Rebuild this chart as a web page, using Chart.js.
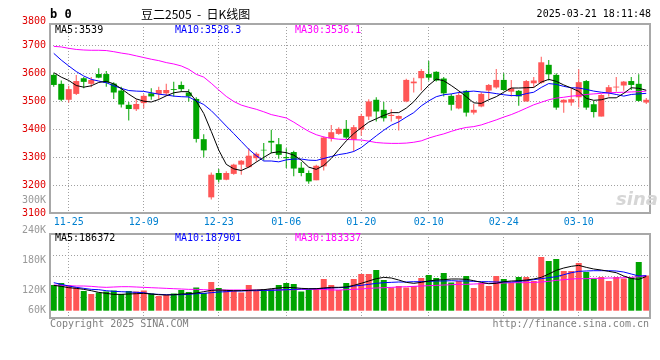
<!DOCTYPE html>
<html><head><meta charset="utf-8">
<script src="https://cdn.jsdelivr.net/npm/chart.js@4"></script>
<style>
body{margin:0;background:#fff;}
#wrap{position:relative;width:660px;height:360px;overflow:hidden;background:#fff;}
canvas{position:absolute;left:0;}
.t{position:absolute;font-family:'DejaVu Sans Mono',monospace;font-size:10px;line-height:10px;white-space:pre;color:#000;}
</style></head><body><div id="wrap">
<canvas id="pc" width="660" height="232" style="top:0;width:660px;height:232px"></canvas>
<canvas id="vc" width="660" height="170" style="top:190px;width:660px;height:170px"></canvas>
<div class="t" style="left:50px;top:8px;font-size:12px;line-height:12px;font-weight:bold">b 0</div>
<div class="t" style="left:141px;top:7px;font-family:'Noto Sans CJK SC',sans-serif;font-size:12px;line-height:14px">豆二2505  -  日K线图</div>
<div class="t" style="right:9px;top:9px">2025-03-21 18:11:48</div>
<div class="t" style="left:55px;top:25px;color:#000">MA5:3539</div>
<div class="t" style="left:175px;top:25px;color:#0000ff">MA10:3528.3</div>
<div class="t" style="left:295px;top:25px;color:#ff00ff">MA30:3536.1</div>
<div class="t" style="left:55px;top:233px;color:#000">MA5:186372</div>
<div class="t" style="left:175px;top:233px;color:#0000ff">MA10:187901</div>
<div class="t" style="left:295px;top:233px;color:#ff00ff">MA30:183337</div>
<div class="t" style="left:50px;top:319px;color:#808080">Copyright 2025 SINA.COM</div>
<div class="t" style="right:11px;top:319px;color:#808080">http://finance.sina.com.cn</div>
<div style="position:absolute;left:616px;top:188px;font-family:'DejaVu Sans',sans-serif;font-style:italic;font-weight:bold;font-size:18px;color:#d6d6d6">sina</div>
</div>
<script>
const dates = ['11-21','11-22','11-25','11-26','11-27','11-28','11-29',
'12-02','12-03','12-04','12-05','12-06','12-09','12-10','12-11','12-12','12-13','12-16','12-17','12-18','12-19','12-20','12-23','12-24','12-25','12-26','12-27','12-30','12-31',
'01-02','01-03','01-06','01-07','01-08','01-09','01-10','01-13','01-14','01-15','01-16','01-17','01-20','01-21','01-22','01-23','01-24','01-27',
'02-05','02-06','02-07','02-10','02-11','02-12','02-13','02-14','02-17','02-18','02-19','02-20','02-21','02-24','02-25','02-26','02-27','02-28',
'03-03','03-04','03-05','03-06','03-07','03-10','03-11','03-12','03-13','03-14','03-17','03-18','03-19','03-20','03-21'];
const dateTicks = ['11-25','12-09','12-23','01-06','01-20','02-10','02-24','03-10'];
const priceTicks = [3100,3200,3300,3400,3500,3600,3700];
const priceTopLabel = 3800;
const volTicks = [60,120,180,240,300];
const volBase = 78.6;

const openP  = [3594,3562,3505,3526,3582,3562,3597,3597,3563,3538,3487,3471,3493,3528,3526,3528,3543,3558,3531,3508,3364,3156,3243,3219,3240,3273,3264,3296,3326,3358,3346,3300,3318,3262,3243,3217,3267,3367,3383,3401,3362,3398,3445,3505,3469,3447,3437,3499,3564,3582,3597,3605,3581,3519,3474,3537,3459,3481,3538,3549,3576,3534,3537,3499,3564,3566,3630,3594,3495,3495,3514,3572,3489,3445,3531,3549,3556,3572,3562,3495];
const highP  = [3600,3574,3555,3594,3586,3586,3618,3608,3568,3552,3497,3507,3525,3546,3552,3562,3569,3570,3543,3514,3382,3245,3257,3249,3276,3290,3332,3317,3350,3398,3368,3332,3323,3282,3252,3273,3374,3415,3407,3433,3415,3455,3507,3514,3497,3471,3449,3580,3584,3615,3644,3607,3586,3526,3534,3540,3490,3532,3561,3615,3600,3576,3540,3576,3586,3659,3647,3600,3507,3546,3614,3576,3501,3525,3558,3586,3572,3586,3596,3511];
const lowP   = [3552,3500,3495,3522,3546,3550,3582,3552,3508,3477,3431,3465,3475,3505,3508,3519,3517,3534,3499,3352,3299,3148,3209,3217,3237,3237,3261,3284,3288,3314,3294,3261,3231,3231,3205,3217,3252,3356,3380,3365,3320,3376,3433,3427,3427,3427,3395,3496,3531,3538,3574,3570,3517,3467,3471,3445,3452,3478,3508,3544,3538,3517,3484,3499,3550,3562,3574,3469,3459,3484,3477,3469,3442,3445,3517,3534,3537,3540,3499,3490];
const closeP = [3558,3505,3543,3572,3569,3576,3584,3566,3531,3488,3472,3490,3519,3517,3540,3540,3540,3543,3517,3365,3324,3237,3219,3243,3273,3287,3305,3312,3324,3352,3308,3296,3259,3243,3213,3269,3370,3389,3401,3370,3407,3447,3499,3463,3439,3451,3447,3576,3570,3608,3584,3574,3528,3487,3522,3459,3469,3526,3558,3576,3540,3546,3517,3572,3574,3639,3596,3477,3505,3507,3568,3477,3461,3522,3550,3552,3570,3558,3501,3505];

const ma5  = [3602,3586,3574,3556,3550,3555,3567,3571,3562,3545,3525,3508,3500,3497,3506,3519,3530,3534,3534,3500,3456,3392,3325,3274,3258,3252,3264,3282,3299,3315,3319,3316,3307,3289,3264,3256,3270,3295,3327,3358,3384,3405,3425,3437,3449,3459,3459,3475,3498,3529,3557,3579,3573,3556,3537,3516,3494,3492,3505,3516,3532,3547,3547,3548,3549,3568,3578,3571,3558,3547,3535,3510,3503,3505,3512,3512,3528,3548,3546,3539];
const ma10 = [3671,3647,3626,3606,3590,3578,3572,3566,3555,3546,3538,3536,3535,3530,3525,3522,3518,3516,3515,3501,3488,3466,3439,3411,3384,3356,3328,3305,3286,3286,3283,3290,3293,3293,3289,3288,3295,3302,3309,3313,3320,3334,3355,3376,3396,3414,3426,3443,3459,3483,3501,3516,3523,3526,3531,3534,3536,3533,3531,3527,3523,3520,3520,3527,3532,3549,3563,3560,3553,3548,3547,3542,3536,3532,3529,3524,3518,3524,3526,3528];
const ma30 = [3696,3694,3689,3685,3683,3682,3682,3681,3677,3672,3668,3662,3656,3650,3645,3638,3633,3626,3614,3596,3586,3564,3540,3517,3499,3486,3478,3471,3462,3452,3446,3440,3425,3408,3392,3380,3372,3367,3364,3363,3362,3361,3357,3352,3350,3349,3349,3350,3353,3358,3368,3376,3383,3392,3400,3406,3409,3415,3424,3433,3443,3452,3463,3475,3487,3496,3505,3511,3514,3518,3520,3524,3526,3528,3530,3531,3532,3533,3534,3536];

const volume = [130,134,129,125,118,112,115,117,119,112,118,117,119,113,108,110,113,120,116,125,114,136,124,120,118,115,130,118,122,122,130,134,132,117,121,123,142,130,120,134,142,152,152,160,140,125,128,125,128,144,150,144,154,135,138,148,124,134,128,148,142,134,146,146,138,186,178,182,158,158,174,156,143,146,138,146,143,145,176,149];
const volMa5  = [129.3,127.3,124.6,123.3,121.3,118.6,115.3,113.3,111.3,111.3,112,112.6,113.3,112,110.6,110,110.6,112,112.6,114,116.6,119.3,120,119.3,118.6,118.6,119.3,120,120.6,122.6,124,125.3,124.6,123.3,122.6,122.6,124,125.3,125.3,126,129.3,133.3,138,142.6,145.3,144,140,135.3,133.3,135.3,138,140,140.6,142,142,141.3,138.6,135.3,132.6,133.3,136.6,138,138.6,140,142,145.3,152,159.3,164,167.3,169.3,165.3,162,160,157.3,154.6,148,143,141.3,147];
const volMa10 = [134.6,131.3,128,125.3,123.3,121.3,120.6,118.6,117.3,116.6,116,115.3,114.6,112,111.3,110.6,110.6,110.6,111.3,112.6,113.3,114.6,116,116.6,118,118,118.6,118.6,119.3,119.3,120,120.6,121.3,122,122,122.6,123.3,124,124.6,125.3,128,129.3,131.3,133.3,134.6,135.3,136,136,136.6,136.6,137.3,138,138,138.6,138,138,137.3,136.6,136.6,136,136,136,137.3,138.6,140.6,142.6,144.6,146.6,150.6,154.6,157.3,158,158.6,158.6,158.6,158,156,152,148,148.6];
const volMa30 = [130,129.3,128.6,128,128,127.3,126,125.3,126,126.6,126.6,126,125.3,124.6,124,123.3,122.6,122,121.3,121.3,120.6,120,120,120,120,120,120,120,120,120,120,120.6,120.6,121.3,121.3,121.3,121.3,120,120,120.6,121.3,122,123.3,124,124.6,125.3,126,126.6,127.3,128,128.6,129.3,130,130.6,131.3,131.3,132,132.6,133.3,133.3,134,134.6,134.6,134.6,135.3,136,137.3,139.3,140.6,142,142.6,142.6,143.3,143.3,144,144,144.6,145.3,146.6,148.6];

const UP = '#ff5656', DOWN = '#00a400';
const candleColors = closeP.map((c, i) => c >= openP[i] ? UP : DOWN);
const bodies = openP.map((o, i) => [Math.min(o, closeP[i]), Math.max(o, closeP[i])]);
const wicks = lowP.map((l, i) => [l, highP[i]]);

const GRID = '#a0a0a0';
const DASH = [1, 2];
const xGridColor = ctx => dateTicks.includes(dates[ctx.index]) ? GRID : 'rgba(0,0,0,0)';
const MONO = 'DejaVu Sans Mono';

const boxPlugin = {
  id: 'box',
  afterDraw(chart) {
    const { ctx, chartArea: a } = chart;
    ctx.save();
    ctx.strokeStyle = '#a8a8a8';
    ctx.lineWidth = 2;
    ctx.setLineDash([]);
    ctx.strokeRect(a.left, a.top, a.right - a.left, a.bottom - a.top);
    ctx.restore();
  }
};
const topLabelPlugin = {
  id: 'toplabel',
  afterDraw(chart) {
    const s = chart.scales.y, ctx = chart.ctx;
    ctx.save();
    ctx.font = '10px ' + MONO;
    ctx.fillStyle = '#e00000';
    ctx.textAlign = 'right';
    ctx.textBaseline = 'middle';
    ctx.fillText(String(priceTopLabel), 46, Math.max(s.getPixelForValue(priceTopLabel), chart.chartArea.top - 3));
    ctx.restore();
  }
};
const volLabelPlugin = {
  id: 'vollabel',
  afterDraw(chart) {
    const s = chart.scales.yv, ctx = chart.ctx;
    const basePx = s.getPixelForValue(volBase);
    ctx.save();
    ctx.font = '10px ' + MONO;
    ctx.fillStyle = '#999999';
    ctx.textAlign = 'right';
    ctx.textBaseline = 'middle';
    volTicks.forEach(v => ctx.fillText(v + 'K', 46, Math.min(s.getPixelForValue(v), basePx)));
    ctx.restore();
  }
};

const lineDs = (data, color, axis) => ({ type: 'line', data, borderColor: color, borderWidth: 1, pointRadius: 0, tension: 0, order: 0, yAxisID: axis });

new Chart(document.getElementById('pc'), {
  type: 'bar',
  data: {
    labels: dates,
    datasets: [
      lineDs(ma5, '#000000', 'y'),
      lineDs(ma10, '#0000ff', 'y'),
      lineDs(ma30, '#ff00ff', 'y'),
      { type: 'bar', data: bodies, backgroundColor: candleColors, barThickness: 6, grouped: false, order: 1, borderWidth: 0, inflateAmount: 0, yAxisID: 'y' },
      { type: 'bar', data: wicks, backgroundColor: candleColors, barThickness: 1, grouped: false, order: 2, borderWidth: 0, inflateAmount: 0, yAxisID: 'y' }
    ]
  },
  options: {
    responsive: false, animation: false, devicePixelRatio: 1,
    layout: { padding: { top: 24, right: 10, left: 0, bottom: 0 } },
    plugins: { legend: { display: false }, tooltip: { enabled: false } },
    scales: {
      x: {
        offset: true,
        grid: { offset: false, color: xGridColor, drawTicks: false, lineWidth: 1, borderDash: DASH },
        border: { display: false, dash: DASH },
        ticks: { autoSkip: false, maxRotation: 0, minRotation: 0, padding: 3, color: '#0080d0', font: { family: MONO, size: 10 },
          callback: (v, i) => dateTicks.includes(dates[i]) ? dates[i] : '' },
        afterFit: s => { s.height = 19; }
      },
      y: {
        min: 3100, max: 3776,
        afterBuildTicks: s => { s.ticks = priceTicks.map(v => ({ value: v })); },
        grid: { color: GRID, drawTicks: false, lineWidth: 1, borderDash: DASH },
        border: { display: false, dash: DASH },
        ticks: { padding: 4, color: '#e00000', font: { family: MONO, size: 10 }, callback: v => String(v) },
        afterFit: s => { s.width = 50; }
      }
    }
  },
  plugins: [boxPlugin, topLabelPlugin]
});

new Chart(document.getElementById('vc'), {
  type: 'bar',
  data: {
    labels: dates,
    datasets: [
      lineDs(volMa5, '#000000', 'yv'),
      lineDs(volMa10, '#0000ff', 'yv'),
      lineDs(volMa30, '#ff00ff', 'yv'),
      { type: 'bar', data: volume, base: volBase, backgroundColor: candleColors, barThickness: 6, grouped: false, order: 1, borderWidth: 0, inflateAmount: 0, yAxisID: 'yv' }
    ]
  },
  options: {
    responsive: false, animation: false, devicePixelRatio: 1,
    layout: { padding: { top: 44, right: 10, left: 0, bottom: 0 } },
    plugins: { legend: { display: false }, tooltip: { enabled: false } },
    scales: {
      x: {
        offset: true,
        grid: { offset: false, color: xGridColor, drawTicks: false, lineWidth: 1, borderDash: DASH },
        border: { display: false, dash: DASH },
        ticks: { display: false, autoSkip: false },
        afterFit: s => { s.height = 42; }
      },
      yv: {
        position: 'left', min: 64, max: 232,
        grid: { display: false }, border: { display: false },
        ticks: { display: false },
        afterFit: s => { s.width = 50; }
      },
      yg: {
        position: 'left', min: 0, max: 4,
        ticks: { display: false, stepSize: 1 },
        grid: { color: GRID, drawTicks: false, lineWidth: 1, borderDash: DASH },
        border: { display: false, dash: DASH },
        afterFit: s => { s.width = 0; }
      }
    }
  },
  plugins: [boxPlugin, volLabelPlugin]
});
</script>
</body></html>
